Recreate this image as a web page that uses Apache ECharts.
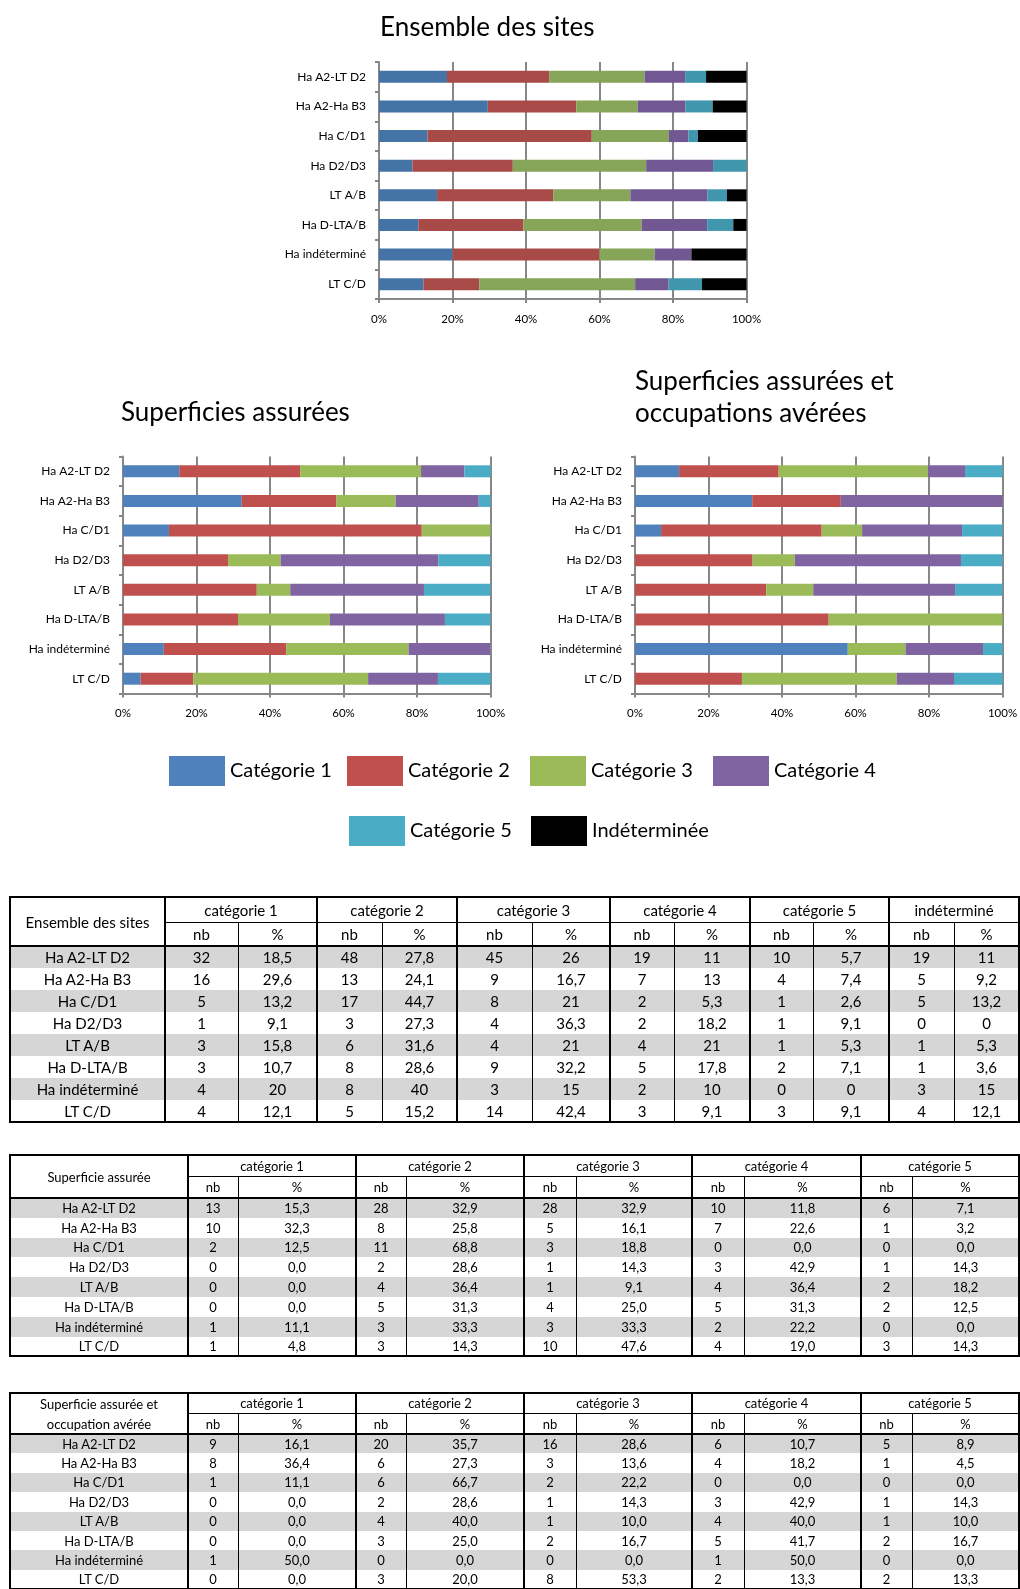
<!DOCTYPE html>
<html><head><meta charset="utf-8">
<script src="https://cdn.jsdelivr.net/npm/echarts@6/dist/echarts.min.js"></script>
<style>
html,body{margin:0;padding:0;background:#fff;width:1020px;height:1589px;overflow:hidden;}
#chart{position:absolute;left:0;top:0;width:1020px;height:1589px;}
#tables{position:absolute;left:0;top:0;width:1020px;height:1589px;font-family:Lato,sans-serif;color:#000;}
.cell{position:absolute;display:flex;align-items:center;justify-content:center;text-align:center;white-space:nowrap;}
.ln{position:absolute;background:#000;}
.bg{position:absolute;background:#d6d6d6;}
</style></head>
<body><div id="chart"></div><div id="tables"></div>
<script>
// ---------- DATA ----------
const categories = ['Ha A2-LT D2','Ha A2-Ha B3','Ha C/D1','Ha D2/D3','LT A/B','Ha D-LTA/B','Ha indéterminé','LT C/D'];
const seriesNames = ['Catégorie 1','Catégorie 2','Catégorie 3','Catégorie 4','Catégorie 5','Indéterminée'];
const xTickLabels = ['0%','20%','40%','60%','80%','100%'];
const titleEnsemble = 'Ensemble des sites';
const titleSup = 'Superficies assurées';
const titleSupOcc = 'Superficies assurées et\noccupations avérées';

// Ensemble des sites (table 1 + chart 1)
const ensCat1Nb = [32,16,5,1,3,3,4,4];      const ensCat1Pct = [18.5,29.6,13.2,9.1,15.8,10.7,20,12.1];
const ensCat2Nb = [48,13,17,3,6,8,8,5];     const ensCat2Pct = [27.8,24.1,44.7,27.3,31.6,28.6,40,15.2];
const ensCat3Nb = [45,9,8,4,4,9,3,14];      const ensCat3Pct = [26,16.7,21,36.3,21,32.2,15,42.4];
const ensCat4Nb = [19,7,2,2,4,5,2,3];       const ensCat4Pct = [11,13,5.3,18.2,21,17.8,10,9.1];
const ensCat5Nb = [10,4,1,1,1,2,0,3];       const ensCat5Pct = [5.7,7.4,2.6,9.1,5.3,7.1,0,9.1];
const ensIndNb  = [19,5,5,0,1,1,3,4];       const ensIndPct  = [11,9.2,13.2,0,5.3,3.6,15,12.1];

// Superficie assurée (table 2 + chart 2)
const supCat1Nb = [13,10,2,0,0,0,1,1];      const supCat1Pct = [15.3,32.3,12.5,0,0,0,11.1,4.8];
const supCat2Nb = [28,8,11,2,4,5,3,3];      const supCat2Pct = [32.9,25.8,68.8,28.6,36.4,31.3,33.3,14.3];
const supCat3Nb = [28,5,3,1,1,4,3,10];      const supCat3Pct = [32.9,16.1,18.8,14.3,9.1,25.0,33.3,47.6];
const supCat4Nb = [10,7,0,3,4,5,2,4];       const supCat4Pct = [11.8,22.6,0,42.9,36.4,31.3,22.2,19.0];
const supCat5Nb = [6,1,0,1,2,2,0,3];        const supCat5Pct = [7.1,3.2,0,14.3,18.2,12.5,0,14.3];

// Superficie assurée et occupation avérée (table 3)
const occCat1Nb = [9,8,1,0,0,0,1,0];        const occCat1Pct = [16.1,36.4,11.1,0,0,0,50.0,0];
const occCat2Nb = [20,6,6,2,4,3,0,3];       const occCat2Pct = [35.7,27.3,66.7,28.6,40.0,25.0,0,20.0];
const occCat3Nb = [16,3,2,1,1,2,0,8];       const occCat3Pct = [28.6,13.6,22.2,14.3,10.0,16.7,0,53.3];
const occCat4Nb = [6,4,0,3,4,5,1,2];        const occCat4Pct = [10.7,18.2,0,42.9,40.0,41.7,50.0,13.3];
const occCat5Nb = [5,1,0,1,1,2,0,2];        const occCat5Pct = [8.9,4.5,0,14.3,10.0,16.7,0,13.3];

// Chart 3 bars (%)
const c3Cat1 = [12.0,31.9,7.1,0,0,0,57.9,0];
const c3Cat2 = [27.1,24.1,43.7,32.0,35.7,52.7,0,29.1];
const c3Cat3 = [40.6,0,11.0,11.5,12.8,47.3,15.7,42.1];
const c3Cat4 = [10.1,44.0,27.2,45.2,38.6,0,21.1,15.6];
const c3Cat5 = [10.2,0,11.0,11.3,12.9,0,5.3,13.2];

const tableHeads1 = ['catégorie 1','catégorie 2','catégorie 3','catégorie 4','catégorie 5','indéterminé'];
const tableHeads2 = ['catégorie 1','catégorie 2','catégorie 3','catégorie 4','catégorie 5'];
const tableLabel1 = 'Ensemble des sites';
const tableLabel2 = 'Superficie assurée';
const tableLabel3 = 'Superficie assurée et<br>occupation avérée';

// ---------- STYLE ----------
const F = 'Lato, sans-serif';
const colorsDark = ['#4473A6','#A84A47','#87A558','#715893','#3F96AD','#000000'];
const colorsStd  = ['#4F81BD','#C0504D','#9BBB59','#8064A2','#4BACC6','#000000'];
const AX = '#878787';

// ---------- CHART ----------
const chart = echarts.init(document.getElementById('chart'), null, {renderer:'canvas'});
const grids = [
  {left:379, top:62, width:367.5, height:237},
  {left:123, top:456.5, width:367.5, height:237},
  {left:635, top:456.5, width:367.5, height:237}
].map(g => Object.assign({containLabel:false, outerBoundsMode:'none'}, g));

function xAx(g){return {gridIndex:g,type:'value',min:0,max:100,interval:20,
  axisLine:{show:true,lineStyle:{color:AX,width:2}},
  axisTick:{show:true,length:4,lineStyle:{color:AX,width:2}},
  splitLine:{show:true,lineStyle:{color:AX,width:2}},
  axisLabel:{formatter:(v)=>xTickLabels[v/20],fontSize:11.5,color:'#000',fontFamily:F,margin:14}};}
function yAx(g){return {gridIndex:g,type:'category',data:categories,inverse:true,
  axisLine:{show:true,lineStyle:{color:AX,width:2}},
  axisTick:{show:true,length:4,lineStyle:{color:AX,width:2}},
  splitLine:{show:false},
  axisLabel:{fontSize:12,color:'#000',fontFamily:F,margin:13}};}

const chartData = [
  [ensCat1Pct,ensCat2Pct,ensCat3Pct,ensCat4Pct,ensCat5Pct,ensIndPct],
  [supCat1Pct,supCat2Pct,supCat3Pct,supCat4Pct,supCat5Pct],
  [c3Cat1,c3Cat2,c3Cat3,c3Cat4,c3Cat5]
];
const series = [];
chartData.forEach((arrs,g)=>{
  const pal = g===0 ? colorsDark : colorsStd;
  arrs.forEach((d,k)=>{
    series.push({name:seriesNames[k],type:'bar',stack:'s'+g,xAxisIndex:g,yAxisIndex:g,
      barWidth:12,data:d,itemStyle:{color:pal[k]},silent:true,clip:true});
  });
});

const legPos = [[169,756],[347,756],[530,756],[713,756],[349,816],[531,816]];
const legends = seriesNames.map((n,i)=>({
  data:[{name:n,itemStyle:{color:colorsStd[i]}}],
  left:legPos[i][0], top:legPos[i][1], padding:0, itemGap:0,
  itemWidth:56, itemHeight:30, icon:'rect', selectedMode:false,
  textStyle:{fontSize:20,color:'#000',fontFamily:F}
}));

chart.setOption({
  animation:false,
  backgroundColor:'#fff',
  title:[
    {text:titleEnsemble,left:380,top:13,padding:0,textStyle:{fontSize:26,fontWeight:'normal',fontFamily:F,color:'#000',lineHeight:30}},
    {text:titleSup,left:121,top:398,padding:0,textStyle:{fontSize:26,fontWeight:'normal',fontFamily:F,color:'#000',lineHeight:30}},
    {text:titleSupOcc,left:635,top:365,padding:0,textStyle:{fontSize:26,fontWeight:'normal',fontFamily:F,color:'#000',lineHeight:32.5}}
  ],
  legend:legends,
  grid:grids,
  xAxis:[xAx(0),xAx(1),xAx(2)],
  yAxis:[yAx(0),yAx(1),yAx(2)],
  series:series
});

// ---------- TABLES ----------
const host = document.getElementById('tables');
function el(cls, x, y, w, h, html, fs, lh){
  const d = document.createElement('div');
  d.className = cls;
  d.style.left = x+'px'; d.style.top = y+'px'; d.style.width = w+'px'; d.style.height = h+'px';
  if (html !== undefined) { d.innerHTML = html; d.style.fontSize = fs+'px'; if (lh) d.style.lineHeight = lh+'px'; }
  host.appendChild(d);
}
function fmt1(v){ return String(v).replace('.',','); }
function fmt2(v){ return v.toFixed(1).replace('.',','); }

function drawTable(spec){
  const {cols,yTop,yH1,yH2,rowH,label,groups,rows,fs,thick,labelLH} = spec;
  const x0 = cols[0], xN = cols[cols.length-1];
  const yB = yH2 + rowH*rows.length;
  rows.forEach((r,i)=>{ if(i%2===0) el('bg', x0, yH2+i*rowH, xN-x0, rowH); });
  el('cell', x0, yTop, cols[1]-x0, yH2-yTop, label, fs, labelLH);
  groups.forEach((g,k)=>{
    const a = cols[1+2*k], b = cols[2+2*k], c = cols[3+2*k];
    el('cell', a, yTop, c-a, yH1-yTop, g, fs);
    el('cell', a, yH1, b-a, yH2-yH1, 'nb', fs);
    el('cell', b, yH1, c-b, yH2-yH1, '%', fs);
  });
  rows.forEach((r,i)=>{ r.forEach((t,j)=>{ el('cell', cols[j], yH2+i*rowH, cols[j+1]-cols[j], rowH, t, fs); }); });
  const H = (xa,xb,y,w)=>el('ln', xa-w/2, y-w/2, xb-xa+w, w);
  const V = (x,ya,yb,w)=>el('ln', x-w/2, ya-w/2, w, yb-ya+w);
  H(x0,xN,yTop,thick); H(x0,xN,yB,thick); H(cols[1],xN,yH1,1); H(x0,xN,yH2,thick);
  V(x0,yTop,yB,thick); V(xN,yTop,yB,thick);
  groups.forEach((g,k)=>{ V(cols[1+2*k],yTop,yB,thick); V(cols[2+2*k],yH1,yB,1); });
}

function buildRows(nbArrs, pctArrs, f){
  return categories.map((c,i)=>{
    const r=[c];
    nbArrs.forEach((nb,k)=>{ r.push(String(nb[i])); r.push(f(pctArrs[k][i])); });
    return r;
  });
}

drawTable({
  cols:[10,165,238,317,382,457,532,610,674,750,813,889,954,1019],
  yTop:897, yH1:922, yH2:946, rowH:22, fs:15, thick:2,
  label:tableLabel1, groups:tableHeads1,
  rows:buildRows([ensCat1Nb,ensCat2Nb,ensCat3Nb,ensCat4Nb,ensCat5Nb,ensIndNb],
                 [ensCat1Pct,ensCat2Pct,ensCat3Pct,ensCat4Pct,ensCat5Pct,ensIndPct], fmt1)
});
drawTable({
  cols:[10,188,238,356,406,524,576,692,744,861,912,1019],
  yTop:1155, yH1:1176.5, yH2:1198, rowH:19.8, fs:13, thick:2,
  label:tableLabel2, groups:tableHeads2,
  rows:buildRows([supCat1Nb,supCat2Nb,supCat3Nb,supCat4Nb,supCat5Nb],
                 [supCat1Pct,supCat2Pct,supCat3Pct,supCat4Pct,supCat5Pct], fmt2)
});
drawTable({
  cols:[10,188,238,356,406,524,576,692,744,861,912,1019],
  yTop:1393, yH1:1413, yH2:1434, rowH:19.4, fs:13, thick:2, labelLH:20,
  label:tableLabel3, groups:tableHeads2,
  rows:buildRows([occCat1Nb,occCat2Nb,occCat3Nb,occCat4Nb,occCat5Nb],
                 [occCat1Pct,occCat2Pct,occCat3Pct,occCat4Pct,occCat5Pct], fmt2)
});
</script></body></html>
